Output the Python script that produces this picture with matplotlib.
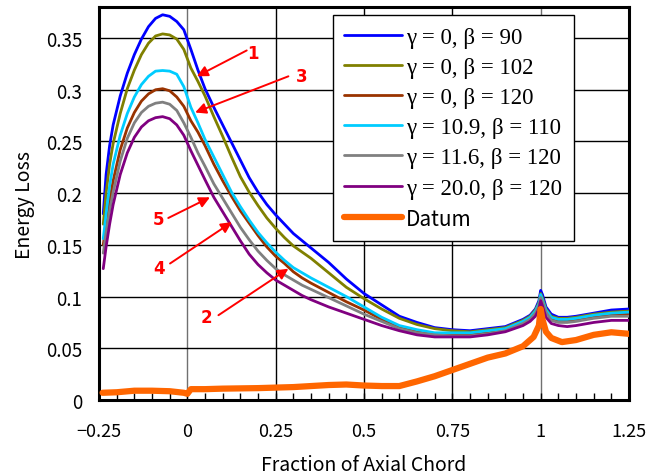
import matplotlib
matplotlib.use("Agg")
import matplotlib.pyplot as plt
from matplotlib.ticker import MultipleLocator, FixedLocator

plt.rcParams['font.family'] = ['Noto Sans CJK JP', 'DejaVu Sans']

# chord positions shared by the six loss curves
x_loss = [-0.238, -0.23, -0.22, -0.21, -0.19, -0.17, -0.15, -0.13, -0.11, -0.09,
          -0.07, -0.05, -0.03, -0.01, 0.01, 0.03, 0.05, 0.075, 0.1, 0.125,
          0.15, 0.175, 0.2, 0.225, 0.25, 0.275, 0.3, 0.325, 0.35, 0.4,
          0.45, 0.5, 0.55, 0.6, 0.65, 0.7, 0.75, 0.8, 0.85, 0.9,
          0.95, 0.97, 0.985, 0.995, 1.0, 1.005, 1.015, 1.03, 1.05, 1.075,
          1.1, 1.15, 1.2, 1.25]

g0_b90 = [0.180, 0.218, 0.246, 0.266, 0.294, 0.316, 0.334, 0.349, 0.361, 0.369,
          0.3725, 0.371, 0.366, 0.358, 0.339, 0.319, 0.301, 0.283, 0.266, 0.249,
          0.232, 0.215, 0.201, 0.189, 0.179, 0.170, 0.161, 0.154, 0.147, 0.133,
          0.117, 0.103, 0.092, 0.081, 0.075, 0.070, 0.068, 0.067, 0.069, 0.071,
          0.078, 0.082, 0.088, 0.096, 0.106, 0.102, 0.090, 0.083, 0.080, 0.080,
          0.081, 0.084, 0.087, 0.088]

g0_b102 = [0.170, 0.200, 0.228, 0.248, 0.277, 0.301, 0.319, 0.334, 0.345, 0.352,
           0.354, 0.353, 0.349, 0.339, 0.321, 0.308, 0.294, 0.274, 0.255, 0.235,
           0.216, 0.201, 0.188, 0.176, 0.166, 0.157, 0.149, 0.143, 0.137, 0.123,
           0.109, 0.098, 0.088, 0.079, 0.073, 0.069, 0.067, 0.066, 0.068, 0.070,
           0.077, 0.081, 0.087, 0.094, 0.103, 0.099, 0.088, 0.081, 0.079, 0.079,
           0.080, 0.083, 0.085, 0.086]

g0_b120 = [0.150, 0.170, 0.192, 0.212, 0.242, 0.263, 0.278, 0.289, 0.296, 0.300,
           0.301, 0.299, 0.293, 0.284, 0.270, 0.259, 0.246, 0.228, 0.212, 0.197,
           0.183, 0.171, 0.159, 0.148, 0.139, 0.132, 0.124, 0.118, 0.113, 0.104,
           0.095, 0.087, 0.078, 0.071, 0.066, 0.064, 0.063, 0.063, 0.065, 0.068,
           0.075, 0.079, 0.085, 0.092, 0.100, 0.096, 0.086, 0.079, 0.077, 0.077,
           0.078, 0.081, 0.083, 0.083]

g109_b110 = [0.156, 0.180, 0.207, 0.228, 0.256, 0.277, 0.293, 0.305, 0.313, 0.318,
             0.3186, 0.318, 0.315, 0.303, 0.283, 0.268, 0.252, 0.235, 0.218, 0.201,
             0.187, 0.174, 0.162, 0.152, 0.143, 0.135, 0.128, 0.123, 0.118, 0.109,
             0.100, 0.090, 0.080, 0.072, 0.068, 0.065, 0.065, 0.065, 0.067, 0.069,
             0.076, 0.080, 0.086, 0.093, 0.102, 0.097, 0.087, 0.080, 0.078, 0.078,
             0.079, 0.082, 0.084, 0.085]

g116_b120 = [0.142, 0.162, 0.183, 0.201, 0.231, 0.253, 0.268, 0.278, 0.284, 0.287,
             0.288, 0.286, 0.280, 0.268, 0.254, 0.239, 0.226, 0.209, 0.195, 0.181,
             0.167, 0.155, 0.144, 0.135, 0.127, 0.121, 0.116, 0.111, 0.107, 0.099,
             0.091, 0.083, 0.076, 0.069, 0.065, 0.063, 0.062, 0.062, 0.064, 0.067,
             0.074, 0.078, 0.084, 0.091, 0.099, 0.095, 0.085, 0.077, 0.075, 0.075,
             0.076, 0.079, 0.081, 0.081]

g200_b120 = [0.127, 0.148, 0.170, 0.189, 0.218, 0.239, 0.254, 0.264, 0.270, 0.273,
             0.274, 0.272, 0.266, 0.256, 0.241, 0.227, 0.213, 0.196, 0.182, 0.168,
             0.154, 0.141, 0.131, 0.123, 0.116, 0.111, 0.106, 0.101, 0.097, 0.090,
             0.084, 0.078, 0.072, 0.067, 0.063, 0.061, 0.061, 0.061, 0.063, 0.066,
             0.072, 0.076, 0.081, 0.088, 0.096, 0.091, 0.080, 0.074, 0.072, 0.071,
             0.072, 0.075, 0.077, 0.077]

x_datum = [-0.24, -0.2, -0.15, -0.1, -0.05, -0.01, 0.0, 0.01, 0.05, 0.1,
           0.2, 0.3, 0.4, 0.45, 0.5, 0.55, 0.6, 0.65, 0.7, 0.75,
           0.8, 0.85, 0.9, 0.95, 0.98, 0.995, 1.0, 1.005, 1.015, 1.03,
           1.06, 1.1, 1.15, 1.2, 1.25]
datum = [0.007, 0.0075, 0.009, 0.009, 0.0085, 0.007, 0.006, 0.0105, 0.0105, 0.011,
         0.0115, 0.0125, 0.0145, 0.015, 0.014, 0.0135, 0.0135, 0.018, 0.023, 0.029,
         0.035, 0.041, 0.045, 0.052, 0.061, 0.072, 0.088, 0.078, 0.066, 0.060,
         0.056, 0.058, 0.063, 0.0655, 0.064]

labels = ['γ = 0, β = 90', 'γ = 0, β = 102', 'γ = 0, β = 120',
          'γ = 10.9, β = 110', 'γ = 11.6, β = 120', 'γ = 20.0, β = 120']
colors = ['#0000ff', '#808000', '#993300', '#00ccff', '#808080', '#800080']
series = [g0_b90, g0_b102, g0_b120, g109_b110, g116_b120, g200_b120]

# numbered callouts: label, text position, arrow tail, arrow tip
callouts = [('1', (0.187, 0.336), (0.168, 0.338), (0.027, 0.313)),
            ('3', (0.324, 0.313), (0.286, 0.313), (0.022, 0.278)),
            ('5', (-0.082, 0.175), (-0.054, 0.176), (0.064, 0.196)),
            ('4', (-0.079, 0.128), (-0.049, 0.132), (0.126, 0.172)),
            ('2', (0.055, 0.080), (0.088, 0.082), (0.286, 0.127))]

xticks = [-0.25, 0, 0.25, 0.5, 0.75, 1, 1.25]
xticklabels = ['\u22120.25', '0', '0.25', '0.5', '0.75', '1', '1.25']
yticks = [0, 0.05, 0.1, 0.15, 0.2, 0.25, 0.3, 0.35]
yticklabels = ['0', '0.05', '0.1', '0.15', '0.2', '0.25', '0.3', '0.35']

fig = plt.figure(figsize=(6.61, 4.77), dpi=100)
ax = fig.add_axes([0.1498, 0.1593, 0.8018, 0.8239])

for ys, c, lab in zip(series, colors, labels):
    ax.plot(x_loss, ys, color=c, lw=2.0, label=lab, solid_capstyle='round', zorder=3)
ax.plot(x_datum, datum, color='#ff6600', lw=4.5, label='Datum',
        solid_capstyle='round', solid_joinstyle='round', zorder=3)

ax.set_xlim(-0.25, 1.25)
ax.set_ylim(0, 0.38)

ax.xaxis.set_major_locator(FixedLocator(xticks))
ax.set_xticklabels(xticklabels)
ax.xaxis.set_minor_locator(MultipleLocator(0.05))
ax.yaxis.set_major_locator(FixedLocator(yticks))
ax.set_yticklabels(yticklabels)

ax.tick_params(axis='x', which='both', direction='in', length=5, width=1,
               pad=16, labelsize=13)
ax.tick_params(axis='y', which='both', length=0, pad=12, labelsize=13.5)

ax.set_axisbelow(True)
ax.grid(True, which='major', axis='both')
for gl in ax.get_xgridlines() + ax.get_ygridlines():
    gl.set_visible(True)
    gl.set_color('black')
    gl.set_linewidth(1.0)
for loc, gl in zip(xticks, ax.get_xgridlines()):
    if loc in (0, 1):
        gl.set_color('#707070')

for sp in ax.spines.values():
    sp.set_linewidth(2.2)

ax.set_xlabel('Fraction of Axial Chord', fontsize=14, labelpad=10)
ax.set_ylabel('Energy Loss', fontsize=14, labelpad=8)

for txt, tpos, tail, tip in callouts:
    ax.text(tpos[0], tpos[1], txt, color='red', fontsize=12, fontweight='bold',
            ha='center', va='center', family=['DejaVu Sans'])
    ax.annotate('', xy=tip, xytext=tail,
                arrowprops=dict(arrowstyle='-|>', color='red', lw=1.4,
                                mutation_scale=16, shrinkA=0, shrinkB=0))

leg = ax.legend(loc='upper left', bbox_to_anchor=(0.4415, 0.9796), borderaxespad=0,
                fancybox=False, edgecolor='black', framealpha=1,
                prop={'family': 'Liberation Serif', 'size': 16.5},
                handlelength=2.5, handletextpad=0.2, labelspacing=0.40,
                borderpad=0.5)
leg.get_frame().set_linewidth(1.0)
leg.get_texts()[-1].set_fontfamily(['Noto Sans CJK JP', 'DejaVu Sans'])
leg.get_texts()[-1].set_fontsize(15)

fig.savefig('out.png', dpi=100)
